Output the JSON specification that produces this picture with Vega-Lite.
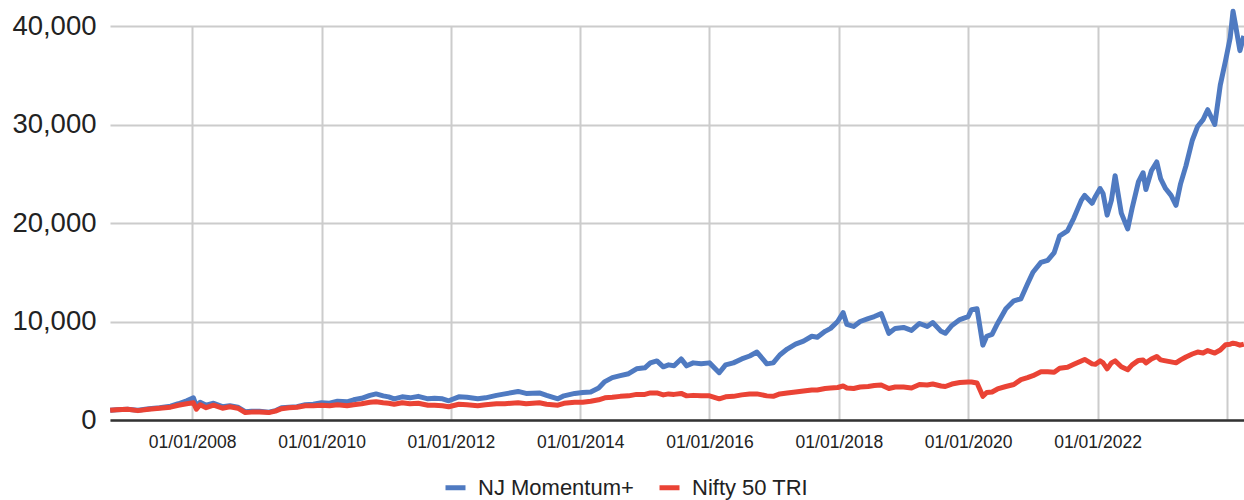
{
  "$schema": "https://vega.github.io/schema/vega-lite/v6.json",
  "width": 1134,
  "height": 394,
  "autosize": "none",
  "padding": {"left": 110, "top": 26, "right": 0, "bottom": 80},
  "background": "white",
  "config": {
    "view": {"stroke": null},
    "font": "Liberation Sans"
  },
  "data": {
    "values": [
      {"date": "2006-09-25", "NJ Momentum+": 1000, "Nifty 50 TRI": 1000},
      {"date": "2006-11-01", "NJ Momentum+": 1050, "Nifty 50 TRI": 1050},
      {"date": "2007-01-01", "NJ Momentum+": 1100, "Nifty 50 TRI": 1100},
      {"date": "2007-03-01", "NJ Momentum+": 1000, "Nifty 50 TRI": 950},
      {"date": "2007-05-01", "NJ Momentum+": 1150, "Nifty 50 TRI": 1100},
      {"date": "2007-07-01", "NJ Momentum+": 1250, "Nifty 50 TRI": 1200},
      {"date": "2007-09-01", "NJ Momentum+": 1400, "Nifty 50 TRI": 1300},
      {"date": "2007-10-15", "NJ Momentum+": 1650, "Nifty 50 TRI": 1500},
      {"date": "2007-12-01", "NJ Momentum+": 1950, "Nifty 50 TRI": 1650},
      {"date": "2008-01-08", "NJ Momentum+": 2250, "Nifty 50 TRI": 1750},
      {"date": "2008-01-25", "NJ Momentum+": 1400, "Nifty 50 TRI": 1100},
      {"date": "2008-02-15", "NJ Momentum+": 1800, "Nifty 50 TRI": 1550},
      {"date": "2008-03-20", "NJ Momentum+": 1500, "Nifty 50 TRI": 1250},
      {"date": "2008-05-01", "NJ Momentum+": 1700, "Nifty 50 TRI": 1500},
      {"date": "2008-06-20", "NJ Momentum+": 1350, "Nifty 50 TRI": 1200},
      {"date": "2008-08-01", "NJ Momentum+": 1450, "Nifty 50 TRI": 1350},
      {"date": "2008-09-15", "NJ Momentum+": 1300, "Nifty 50 TRI": 1200},
      {"date": "2008-10-27", "NJ Momentum+": 850, "Nifty 50 TRI": 750},
      {"date": "2008-12-01", "NJ Momentum+": 900, "Nifty 50 TRI": 800},
      {"date": "2009-01-15", "NJ Momentum+": 900, "Nifty 50 TRI": 820},
      {"date": "2009-03-09", "NJ Momentum+": 800, "Nifty 50 TRI": 750},
      {"date": "2009-04-15", "NJ Momentum+": 950, "Nifty 50 TRI": 900},
      {"date": "2009-05-20", "NJ Momentum+": 1250, "Nifty 50 TRI": 1150},
      {"date": "2009-07-01", "NJ Momentum+": 1300, "Nifty 50 TRI": 1250},
      {"date": "2009-08-15", "NJ Momentum+": 1350, "Nifty 50 TRI": 1300},
      {"date": "2009-10-01", "NJ Momentum+": 1550, "Nifty 50 TRI": 1450},
      {"date": "2009-11-15", "NJ Momentum+": 1600, "Nifty 50 TRI": 1450},
      {"date": "2010-01-01", "NJ Momentum+": 1750, "Nifty 50 TRI": 1500},
      {"date": "2010-02-15", "NJ Momentum+": 1700, "Nifty 50 TRI": 1450},
      {"date": "2010-04-01", "NJ Momentum+": 1900, "Nifty 50 TRI": 1550},
      {"date": "2010-05-25", "NJ Momentum+": 1850, "Nifty 50 TRI": 1450},
      {"date": "2010-07-01", "NJ Momentum+": 2050, "Nifty 50 TRI": 1550},
      {"date": "2010-08-15", "NJ Momentum+": 2200, "Nifty 50 TRI": 1650},
      {"date": "2010-10-01", "NJ Momentum+": 2500, "Nifty 50 TRI": 1800},
      {"date": "2010-11-05", "NJ Momentum+": 2650, "Nifty 50 TRI": 1850},
      {"date": "2010-12-15", "NJ Momentum+": 2450, "Nifty 50 TRI": 1750},
      {"date": "2011-01-15", "NJ Momentum+": 2350, "Nifty 50 TRI": 1700},
      {"date": "2011-02-15", "NJ Momentum+": 2150, "Nifty 50 TRI": 1600},
      {"date": "2011-04-01", "NJ Momentum+": 2350, "Nifty 50 TRI": 1750},
      {"date": "2011-05-15", "NJ Momentum+": 2250, "Nifty 50 TRI": 1650},
      {"date": "2011-07-01", "NJ Momentum+": 2400, "Nifty 50 TRI": 1700},
      {"date": "2011-08-25", "NJ Momentum+": 2150, "Nifty 50 TRI": 1500},
      {"date": "2011-10-01", "NJ Momentum+": 2200, "Nifty 50 TRI": 1500},
      {"date": "2011-11-15", "NJ Momentum+": 2150, "Nifty 50 TRI": 1450},
      {"date": "2011-12-20", "NJ Momentum+": 1950, "Nifty 50 TRI": 1350},
      {"date": "2012-02-15", "NJ Momentum+": 2350, "Nifty 50 TRI": 1600},
      {"date": "2012-04-01", "NJ Momentum+": 2300, "Nifty 50 TRI": 1550},
      {"date": "2012-06-01", "NJ Momentum+": 2150, "Nifty 50 TRI": 1450},
      {"date": "2012-07-15", "NJ Momentum+": 2250, "Nifty 50 TRI": 1550},
      {"date": "2012-09-15", "NJ Momentum+": 2500, "Nifty 50 TRI": 1650},
      {"date": "2012-11-01", "NJ Momentum+": 2650, "Nifty 50 TRI": 1650},
      {"date": "2013-01-15", "NJ Momentum+": 2900, "Nifty 50 TRI": 1750},
      {"date": "2013-03-01", "NJ Momentum+": 2700, "Nifty 50 TRI": 1650},
      {"date": "2013-05-15", "NJ Momentum+": 2750, "Nifty 50 TRI": 1750},
      {"date": "2013-06-25", "NJ Momentum+": 2500, "Nifty 50 TRI": 1600},
      {"date": "2013-08-28", "NJ Momentum+": 2150, "Nifty 50 TRI": 1500},
      {"date": "2013-10-01", "NJ Momentum+": 2450, "Nifty 50 TRI": 1700},
      {"date": "2013-12-01", "NJ Momentum+": 2700, "Nifty 50 TRI": 1800},
      {"date": "2014-01-15", "NJ Momentum+": 2800, "Nifty 50 TRI": 1800},
      {"date": "2014-03-01", "NJ Momentum+": 2850, "Nifty 50 TRI": 1900},
      {"date": "2014-04-15", "NJ Momentum+": 3250, "Nifty 50 TRI": 2050},
      {"date": "2014-05-20", "NJ Momentum+": 3900, "Nifty 50 TRI": 2250},
      {"date": "2014-07-01", "NJ Momentum+": 4300, "Nifty 50 TRI": 2300},
      {"date": "2014-08-15", "NJ Momentum+": 4500, "Nifty 50 TRI": 2400},
      {"date": "2014-10-01", "NJ Momentum+": 4700, "Nifty 50 TRI": 2450},
      {"date": "2014-11-15", "NJ Momentum+": 5200, "Nifty 50 TRI": 2600},
      {"date": "2015-01-01", "NJ Momentum+": 5300, "Nifty 50 TRI": 2600},
      {"date": "2015-02-01", "NJ Momentum+": 5800, "Nifty 50 TRI": 2750},
      {"date": "2015-03-10", "NJ Momentum+": 6000, "Nifty 50 TRI": 2750},
      {"date": "2015-04-15", "NJ Momentum+": 5400, "Nifty 50 TRI": 2550},
      {"date": "2015-05-15", "NJ Momentum+": 5600, "Nifty 50 TRI": 2650},
      {"date": "2015-06-15", "NJ Momentum+": 5500, "Nifty 50 TRI": 2600},
      {"date": "2015-07-25", "NJ Momentum+": 6200, "Nifty 50 TRI": 2700},
      {"date": "2015-08-25", "NJ Momentum+": 5500, "Nifty 50 TRI": 2450},
      {"date": "2015-10-01", "NJ Momentum+": 5800, "Nifty 50 TRI": 2500},
      {"date": "2015-11-15", "NJ Momentum+": 5700, "Nifty 50 TRI": 2450},
      {"date": "2016-01-01", "NJ Momentum+": 5800, "Nifty 50 TRI": 2450},
      {"date": "2016-02-25", "NJ Momentum+": 4800, "Nifty 50 TRI": 2150},
      {"date": "2016-04-01", "NJ Momentum+": 5600, "Nifty 50 TRI": 2350},
      {"date": "2016-05-15", "NJ Momentum+": 5800, "Nifty 50 TRI": 2400},
      {"date": "2016-07-01", "NJ Momentum+": 6200, "Nifty 50 TRI": 2550},
      {"date": "2016-08-15", "NJ Momentum+": 6500, "Nifty 50 TRI": 2650},
      {"date": "2016-09-25", "NJ Momentum+": 6900, "Nifty 50 TRI": 2650},
      {"date": "2016-11-20", "NJ Momentum+": 5700, "Nifty 50 TRI": 2450},
      {"date": "2016-12-26", "NJ Momentum+": 5800, "Nifty 50 TRI": 2400},
      {"date": "2017-02-01", "NJ Momentum+": 6600, "Nifty 50 TRI": 2650},
      {"date": "2017-03-15", "NJ Momentum+": 7200, "Nifty 50 TRI": 2750},
      {"date": "2017-05-01", "NJ Momentum+": 7700, "Nifty 50 TRI": 2850},
      {"date": "2017-06-15", "NJ Momentum+": 8000, "Nifty 50 TRI": 2950},
      {"date": "2017-08-01", "NJ Momentum+": 8500, "Nifty 50 TRI": 3050},
      {"date": "2017-09-01", "NJ Momentum+": 8400, "Nifty 50 TRI": 3050},
      {"date": "2017-10-15", "NJ Momentum+": 9000, "Nifty 50 TRI": 3200},
      {"date": "2017-11-15", "NJ Momentum+": 9300, "Nifty 50 TRI": 3250},
      {"date": "2017-12-25", "NJ Momentum+": 10000, "Nifty 50 TRI": 3300},
      {"date": "2018-01-25", "NJ Momentum+": 10900, "Nifty 50 TRI": 3450},
      {"date": "2018-02-15", "NJ Momentum+": 9700, "Nifty 50 TRI": 3250},
      {"date": "2018-03-25", "NJ Momentum+": 9500, "Nifty 50 TRI": 3200},
      {"date": "2018-05-01", "NJ Momentum+": 10000, "Nifty 50 TRI": 3350},
      {"date": "2018-06-15", "NJ Momentum+": 10300, "Nifty 50 TRI": 3400},
      {"date": "2018-07-20", "NJ Momentum+": 10500, "Nifty 50 TRI": 3500},
      {"date": "2018-08-28", "NJ Momentum+": 10800, "Nifty 50 TRI": 3550},
      {"date": "2018-10-10", "NJ Momentum+": 8800, "Nifty 50 TRI": 3200},
      {"date": "2018-11-15", "NJ Momentum+": 9300, "Nifty 50 TRI": 3350},
      {"date": "2019-01-01", "NJ Momentum+": 9400, "Nifty 50 TRI": 3350},
      {"date": "2019-02-15", "NJ Momentum+": 9100, "Nifty 50 TRI": 3250},
      {"date": "2019-04-01", "NJ Momentum+": 9800, "Nifty 50 TRI": 3600},
      {"date": "2019-05-15", "NJ Momentum+": 9500, "Nifty 50 TRI": 3550},
      {"date": "2019-06-15", "NJ Momentum+": 9900, "Nifty 50 TRI": 3650},
      {"date": "2019-08-01", "NJ Momentum+": 9000, "Nifty 50 TRI": 3450},
      {"date": "2019-08-25", "NJ Momentum+": 8800, "Nifty 50 TRI": 3400},
      {"date": "2019-10-01", "NJ Momentum+": 9600, "Nifty 50 TRI": 3650},
      {"date": "2019-11-15", "NJ Momentum+": 10200, "Nifty 50 TRI": 3800},
      {"date": "2020-01-01", "NJ Momentum+": 10500, "Nifty 50 TRI": 3850},
      {"date": "2020-01-20", "NJ Momentum+": 11200, "Nifty 50 TRI": 3850},
      {"date": "2020-02-20", "NJ Momentum+": 11300, "Nifty 50 TRI": 3750},
      {"date": "2020-03-24", "NJ Momentum+": 7600, "Nifty 50 TRI": 2400},
      {"date": "2020-04-15", "NJ Momentum+": 8500, "Nifty 50 TRI": 2800},
      {"date": "2020-05-15", "NJ Momentum+": 8700, "Nifty 50 TRI": 2850},
      {"date": "2020-06-15", "NJ Momentum+": 9800, "Nifty 50 TRI": 3150},
      {"date": "2020-08-01", "NJ Momentum+": 11300, "Nifty 50 TRI": 3400},
      {"date": "2020-09-15", "NJ Momentum+": 12100, "Nifty 50 TRI": 3600},
      {"date": "2020-10-25", "NJ Momentum+": 12300, "Nifty 50 TRI": 4100},
      {"date": "2020-12-01", "NJ Momentum+": 13800, "Nifty 50 TRI": 4300},
      {"date": "2021-01-01", "NJ Momentum+": 15000, "Nifty 50 TRI": 4500},
      {"date": "2021-02-15", "NJ Momentum+": 16000, "Nifty 50 TRI": 4900},
      {"date": "2021-03-25", "NJ Momentum+": 16200, "Nifty 50 TRI": 4900},
      {"date": "2021-05-01", "NJ Momentum+": 17000, "Nifty 50 TRI": 4850},
      {"date": "2021-06-01", "NJ Momentum+": 18700, "Nifty 50 TRI": 5250},
      {"date": "2021-07-15", "NJ Momentum+": 19200, "Nifty 50 TRI": 5350},
      {"date": "2021-08-20", "NJ Momentum+": 20500, "Nifty 50 TRI": 5650},
      {"date": "2021-10-01", "NJ Momentum+": 22300, "Nifty 50 TRI": 6000},
      {"date": "2021-10-20", "NJ Momentum+": 22800, "Nifty 50 TRI": 6150},
      {"date": "2021-12-01", "NJ Momentum+": 22000, "Nifty 50 TRI": 5700},
      {"date": "2021-12-20", "NJ Momentum+": 22700, "Nifty 50 TRI": 5650},
      {"date": "2022-01-15", "NJ Momentum+": 23500, "Nifty 50 TRI": 6000},
      {"date": "2022-02-01", "NJ Momentum+": 23000, "Nifty 50 TRI": 5800},
      {"date": "2022-02-24", "NJ Momentum+": 20800, "Nifty 50 TRI": 5200},
      {"date": "2022-03-20", "NJ Momentum+": 22300, "Nifty 50 TRI": 5800},
      {"date": "2022-04-10", "NJ Momentum+": 24800, "Nifty 50 TRI": 6000},
      {"date": "2022-05-15", "NJ Momentum+": 21000, "Nifty 50 TRI": 5400},
      {"date": "2022-06-20", "NJ Momentum+": 19400, "Nifty 50 TRI": 5100},
      {"date": "2022-07-15", "NJ Momentum+": 21500, "Nifty 50 TRI": 5600},
      {"date": "2022-08-20", "NJ Momentum+": 24200, "Nifty 50 TRI": 6050},
      {"date": "2022-09-15", "NJ Momentum+": 25100, "Nifty 50 TRI": 6100},
      {"date": "2022-10-01", "NJ Momentum+": 23400, "Nifty 50 TRI": 5800},
      {"date": "2022-11-01", "NJ Momentum+": 25300, "Nifty 50 TRI": 6200},
      {"date": "2022-12-01", "NJ Momentum+": 26200, "Nifty 50 TRI": 6450},
      {"date": "2022-12-23", "NJ Momentum+": 24500, "Nifty 50 TRI": 6100},
      {"date": "2023-01-20", "NJ Momentum+": 23500, "Nifty 50 TRI": 6000},
      {"date": "2023-02-20", "NJ Momentum+": 22800, "Nifty 50 TRI": 5900},
      {"date": "2023-03-20", "NJ Momentum+": 21800, "Nifty 50 TRI": 5800},
      {"date": "2023-04-15", "NJ Momentum+": 24000, "Nifty 50 TRI": 6100},
      {"date": "2023-05-15", "NJ Momentum+": 25800, "Nifty 50 TRI": 6400},
      {"date": "2023-06-20", "NJ Momentum+": 28400, "Nifty 50 TRI": 6700},
      {"date": "2023-07-20", "NJ Momentum+": 29800, "Nifty 50 TRI": 6900},
      {"date": "2023-08-20", "NJ Momentum+": 30500, "Nifty 50 TRI": 6800},
      {"date": "2023-09-15", "NJ Momentum+": 31500, "Nifty 50 TRI": 7050},
      {"date": "2023-10-25", "NJ Momentum+": 30000, "Nifty 50 TRI": 6800},
      {"date": "2023-11-25", "NJ Momentum+": 34000, "Nifty 50 TRI": 7100},
      {"date": "2023-12-25", "NJ Momentum+": 36500, "Nifty 50 TRI": 7650},
      {"date": "2024-01-20", "NJ Momentum+": 38800, "Nifty 50 TRI": 7700},
      {"date": "2024-02-05", "NJ Momentum+": 41500, "Nifty 50 TRI": 7800},
      {"date": "2024-02-20", "NJ Momentum+": 40000, "Nifty 50 TRI": 7750},
      {"date": "2024-03-15", "NJ Momentum+": 37500, "Nifty 50 TRI": 7600},
      {"date": "2024-04-06", "NJ Momentum+": 39000, "Nifty 50 TRI": 7700}
    ]
  },
  "transform": [
    {"fold": ["NJ Momentum+", "Nifty 50 TRI"], "as": ["series", "value"]}
  ],
  "mark": {"type": "line", "strokeWidth": 5, "clip": false, "strokeJoin": "round"},
  "encoding": {
    "x": {
      "field": "date",
      "type": "temporal",
      "scale": {
        "type": "utc",
        "nice": false,
        "domain": [
          {"year": 2006, "month": 9, "date": 24, "utc": true},
          {"year": 2024, "month": 4, "date": 7, "utc": true}
        ]
      },
      "axis": {
        "title": null,
        "values": [
          {"year": 2008, "month": 1, "date": 1, "utc": true},
          {"year": 2010, "month": 1, "date": 1, "utc": true},
          {"year": 2012, "month": 1, "date": 1, "utc": true},
          {"year": 2014, "month": 1, "date": 1, "utc": true},
          {"year": 2016, "month": 1, "date": 1, "utc": true},
          {"year": 2018, "month": 1, "date": 1, "utc": true},
          {"year": 2020, "month": 1, "date": 1, "utc": true},
          {"year": 2022, "month": 1, "date": 1, "utc": true},
          {"year": 2024, "month": 1, "date": 1, "utc": true}
        ],
        "labelExpr": "utcyear(datum.value) == 2024 ? '' : utcFormat(datum.value, '%d/%m/%Y')",
        "labelFont": "Liberation Sans",
        "labelFontSize": 17.5,
        "labelColor": "#222222",
        "labelPadding": 13,
        "labelOverlap": false,
        "labelFlush": false,
        "ticks": false,
        "grid": true,
        "gridColor": "#cccccc",
        "gridWidth": 2,
        "domain": true,
        "domainColor": "#333333",
        "domainWidth": 2.5,
        "zindex": 0
      }
    },
    "y": {
      "field": "value",
      "type": "quantitative",
      "scale": {"domain": [0, 40000], "nice": false, "zero": true},
      "axis": {
        "title": null,
        "values": [0, 10000, 20000, 30000, 40000],
        "format": ",d",
        "labelFont": "Liberation Sans",
        "labelFontSize": 27.5,
        "labelColor": "#222222",
        "labelPadding": 14,
        "ticks": false,
        "domain": false,
        "grid": true,
        "gridColor": "#cccccc",
        "gridWidth": 2,
        "zindex": 0
      }
    },
    "color": {
      "field": "series",
      "type": "nominal",
      "scale": {"domain": ["NJ Momentum+", "Nifty 50 TRI"], "range": ["#4F7AC1", "#EA4335"]},
      "legend": {
        "title": null,
        "orient": "none",
        "direction": "horizontal",
        "legendX": 333,
        "legendY": 449,
        "symbolType": "stroke",
        "symbolSize": 400,
        "symbolStrokeWidth": 5,
        "labelFont": "Liberation Sans",
        "labelFontSize": 22,
        "labelColor": "#222222",
        "labelOffset": 10,
        "columnPadding": 15,
        "padding": 0
      }
    }
  }
}
